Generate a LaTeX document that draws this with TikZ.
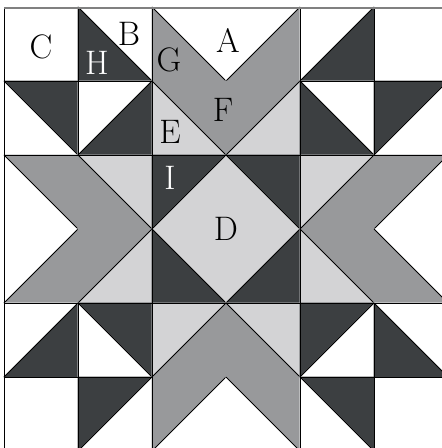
\documentclass[tikz,border=0pt]{standalone}
\begin{document}
\begin{tikzpicture}[x=1pt,y=-1pt,
  tri/.style={fill=#1,draw=#1,line width=0.6pt,line join=round},
  seam/.style={draw=black,line width=0.9pt,line cap=rect},
  lab/.style={inner sep=0pt,font=\fontsize{34}{34}\selectfont,text=#1},
  lab/.default=black]
\definecolor{dk}{HTML}{3C3F41}
\definecolor{gr}{HTML}{98999B}
\definecolor{lt}{HTML}{D3D3D5}
\useasboundingbox (0,0) rectangle (442,448);
\clip (0,0) rectangle (442,448);
\fill[white] (0,0) rectangle (442,448);
% patches: row/col/diagonal (1 = top-left to bottom-right, 2 = bottom-left to top-right)/upper colour/lower colour
\foreach \r/\c/\d/\a/\b in {
 0/0/0/white/white, 0/1/1/white/dk, 0/2/1/white/gr, 0/3/2/white/gr, 0/4/2/white/dk, 0/5/0/white/white,
 1/0/1/dk/white, 1/1/2/white/dk, 1/2/1/gr/lt, 1/3/2/gr/lt, 1/4/1/white/dk, 1/5/2/dk/white,
 2/0/1/gr/white, 2/1/1/lt/gr, 2/2/2/dk/lt, 2/3/1/dk/lt, 2/4/2/lt/gr, 2/5/2/gr/white,
 3/0/2/white/gr, 3/1/2/gr/lt, 3/2/1/lt/dk, 3/3/2/lt/dk, 3/4/1/gr/lt, 3/5/1/white/gr,
 4/0/2/white/dk, 4/1/1/dk/white, 4/2/2/lt/gr, 4/3/1/lt/gr, 4/4/2/dk/white, 4/5/1/white/dk,
 5/0/0/white/white, 5/1/2/dk/white, 5/2/2/gr/white, 5/3/1/gr/white, 5/4/1/dk/white, 5/5/0/white/white}{
  \begin{scope}[shift={({4+74*\c},{7+74*\r})}]
    \ifnum\d=1
      \draw[tri=\a] (0,0) -- (74,0) -- (74,74) -- cycle;
      \draw[tri=\b] (0,0) -- (0,74) -- (74,74) -- cycle;
      \draw[black,line width=0.8pt] (0,0) -- (74,74);
    \fi
    \ifnum\d=2
      \draw[tri=\a] (0,0) -- (74,0) -- (0,74) -- cycle;
      \draw[tri=\b] (74,0) -- (74,74) -- (0,74) -- cycle;
      \draw[black,line width=0.8pt] (0,74) -- (74,0);
    \fi
  \end{scope}
}
% seams between differently coloured patches
\foreach \y/\xa/\xb in {81/4/152, 81/300/448, 155/4/448, 303/4/448, 377/4/152, 377/300/448}
  \draw[seam] (\xa,\y) -- (\xb,\y);
\foreach \x/\ya/\yb in {78/7/155, 78/303/451, 152/7/451, 300/7/451, 374/7/155, 374/303/451}
  \draw[seam] (\x,\ya) -- (\x,\yb);
\draw[seam] (4,7) -- (4,451);
\draw[gray,line width=2pt] (4,7.5) -- (442,7.5);
\node[lab] (C) at (41,47) {C};
\node[lab] (B) at (129,34) {B};
\node[lab=white] (H) at (97,63) {H};
\node[lab] (G) at (169,60) {G};
\node[lab] (A) at (228,40) {A};
\node[lab] (F) at (223,110) {F};
\node[lab] (E) at (170,132) {E};
\node[lab=white] (I) at (170,178) {I};
\node[lab] (D) at (226,229) {D};
\end{tikzpicture}
\end{document}
